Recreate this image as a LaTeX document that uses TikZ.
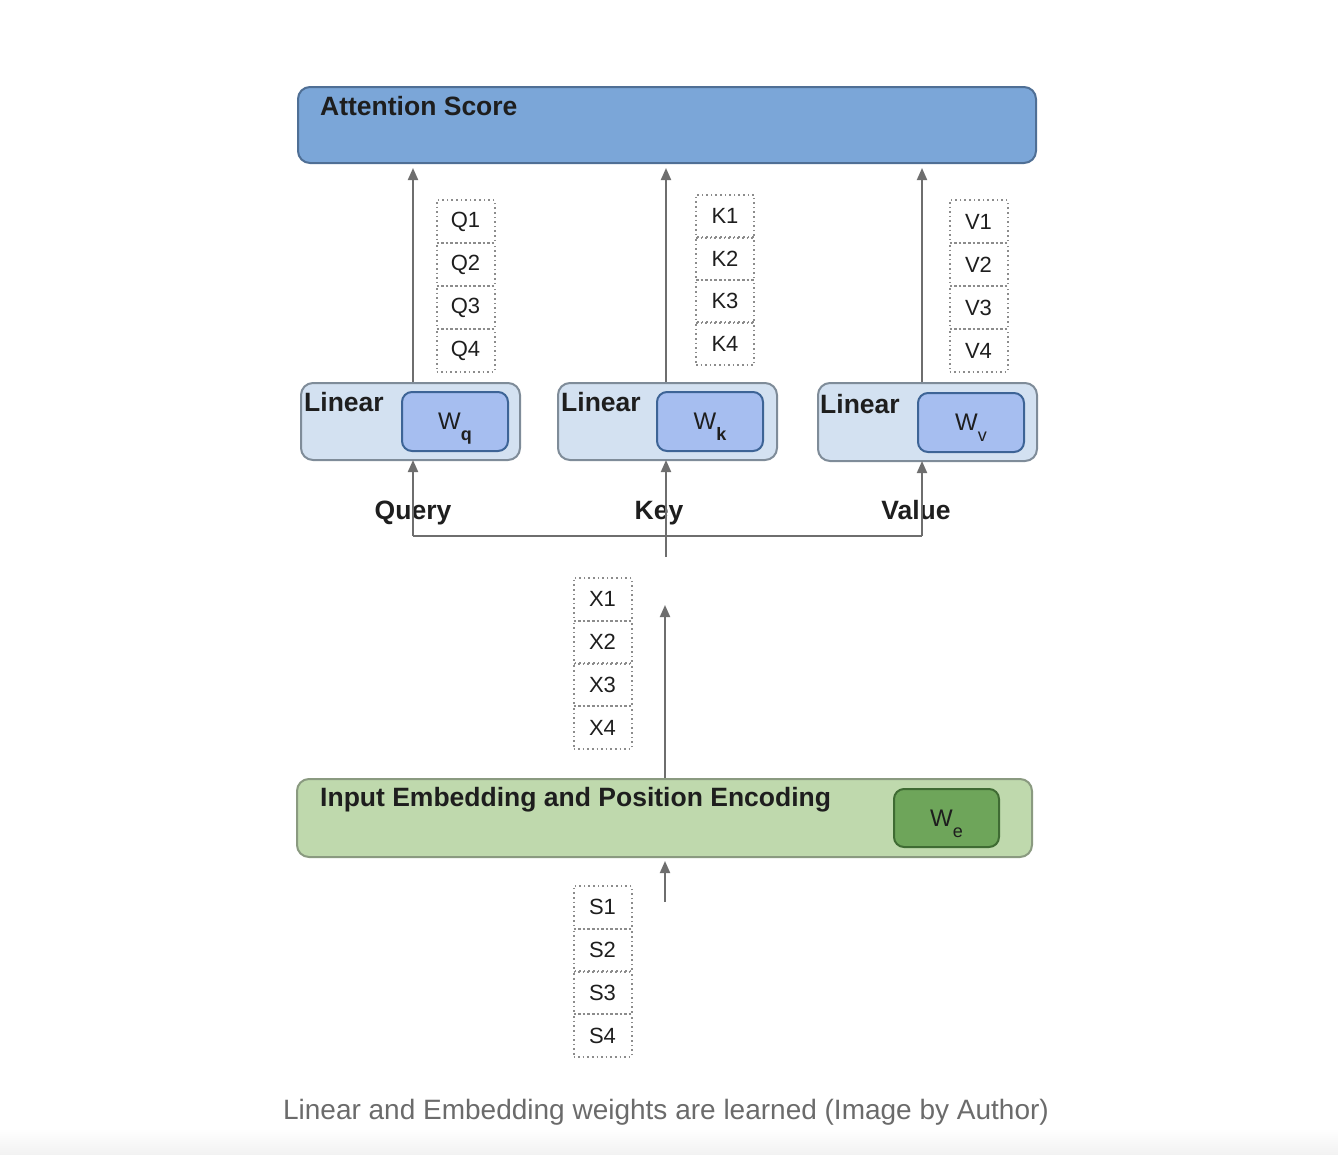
\documentclass[tikz,border=0pt]{standalone}
\usepackage{fontspec}
\setmainfont{Liberation Sans}
\usetikzlibrary{arrows.meta}
\definecolor{attfill}{HTML}{7BA6D8}
\definecolor{attdraw}{HTML}{4F6F95}
\definecolor{linfill}{HTML}{D3E1F1}
\definecolor{lindraw}{HTML}{7F8C99}
\definecolor{wfill}{HTML}{A6BEF0}
\definecolor{wdraw}{HTML}{3D6496}
\definecolor{embfill}{HTML}{BFD9AD}
\definecolor{embdraw}{HTML}{8A9A80}
\definecolor{wefill}{HTML}{6EA55A}
\definecolor{wedraw}{HTML}{3F6B33}
\definecolor{arrgrey}{HTML}{6E6E6E}
\definecolor{dotgrey}{HTML}{8C8C8C}
\definecolor{capgrey}{HTML}{6B6B6B}
\definecolor{txt}{HTML}{1E1E1E}
\newcommand{\wsub}[1]{W\raisebox{-11pt}[0pt][0pt]{\fontsize{18}{18}\selectfont #1}}
\begin{document}
\begin{tikzpicture}[x=1pt,y=-1pt,
  bigbox/.style={rounded corners=12pt, line width=2pt, anchor=north west, inner sep=0pt},
  attbox/.style={bigbox, fill=attfill, draw=attdraw},
  linbox/.style={bigbox, fill=linfill, draw=lindraw, minimum width=219pt, minimum height=77pt},
  wbox/.style={bigbox, rounded corners=10pt, fill=wfill, draw=wdraw, minimum width=106pt, minimum height=59pt, font=\fontsize{24}{24}\selectfont\color{txt}},
  embbox/.style={bigbox, fill=embfill, draw=embdraw},
  webox/.style={bigbox, rounded corners=10pt, fill=wefill, draw=wedraw, minimum width=105pt, minimum height=58pt, font=\fontsize{24}{24}\selectfont\color{txt}},
  boldlbl/.style={font=\fontsize{26.5}{26.5}\selectfont\bfseries\color{txt}, inner sep=0pt},
  cell/.style={draw=dotgrey, dash pattern=on 1.6pt off 3pt, line width=2pt, minimum width=58pt, minimum height=43pt, inner sep=0pt, font=\fontsize{22}{22}\selectfont\color{txt}},
  conn/.style={draw=arrgrey, line width=2pt},
  arr/.style={conn, -{Triangle[length=12pt, width=10pt]}}
]
\useasboundingbox (0,0) rectangle (1338,1154);
\shade[top color=white, bottom color=black!5] (0,1128) rectangle (1338,1154);

% Attention Score
\node[attbox, minimum width=738pt, minimum height=76pt] (att) at (297,86) {};
\node[boldlbl, anchor=west] (attl) at (320,106) {Attention Score};

% Linear boxes
\node[linbox] (lq) at (300,382) {};
\node[linbox] (lk) at (557,382) {};
\node[linbox, minimum height=78pt] (lv) at (817,382) {};
\node[boldlbl, anchor=west] (lql) at (304,402) {Linear};
\node[boldlbl, anchor=west] (lkl) at (561,402) {Linear};
\node[boldlbl, anchor=west] (lvl) at (820,404) {Linear};
\node[wbox] (wq) at (401,391) {\wsub{\bfseries q}};
\node[wbox] (wk) at (656,391) {\wsub{\bfseries k}};
\node[wbox] (wv) at (917,392) {\wsub{v}};

% Q K V X S stacks
\foreach \i in {1,...,4} {
  \node[cell] (q\i) at (465.5,{200+43*(\i-0.5)}) {Q\i};
  \node[cell] (k\i) at (725,{195+42.5*(\i-0.5)}) {K\i};
  \node[cell] (v\i) at (978.5,{200+43*(\i-0.5)}) {V\i};
  \node[cell] (x\i) at (602.5,{578+42.75*(\i-0.5)}) {X\i};
  \node[cell] (s\i) at (602.5,{886+42.75*(\i-0.5)}) {S\i};
}

% Labels
\node[boldlbl] (query) at (413,513) {Query};
\node[boldlbl] (key) at (659,513) {Key};
\node[boldlbl] (value) at (916,510) {Value};

% Embedding
\node[embbox, minimum width=735pt, minimum height=78pt] (emb) at (296,778) {};
\node[boldlbl, anchor=west, font=\fontsize{26.5}{26.5}\selectfont\bfseries\color{txt}] (embl) at (320,800) {Input Embedding and Position Encoding};
\node[webox] (we) at (893,788) {\wsub{e}};

% connectors
\coordinate (jq) at (413,536);
\coordinate (jv) at (922,536);
\coordinate (kb) at (666,557);
\coordinate (xt) at (665,605);
\coordinate (sb) at (665,902);
\draw[conn] (jq) -- (jv);
\draw[arr, shorten >=-1pt] (jq) -- (lq.south -| jq);
\draw[arr, shorten >=-1pt] (kb) -- (lk.south -| kb);
\draw[arr, shorten >=-1pt] (jv) -- (lv.south -| jv);
\draw[arr, shorten >=4pt] (lq.north -| jq) -- (att.south -| jq);
\draw[arr, shorten >=4pt] (lk.north -| kb) -- (att.south -| kb);
\draw[arr, shorten >=4pt] (lv.north -| jv) -- (att.south -| jv);
\draw[arr] (emb.north -| xt) -- (xt);
\draw[arr, shorten >=3pt] (sb) -- (emb.south -| sb);

% caption
\node[font=\fontsize{28}{28}\selectfont, text=capgrey, inner sep=0pt] (cap) at (666,1112) {Linear and Embedding weights are learned (Image by Author)};
\end{tikzpicture}
\end{document}
